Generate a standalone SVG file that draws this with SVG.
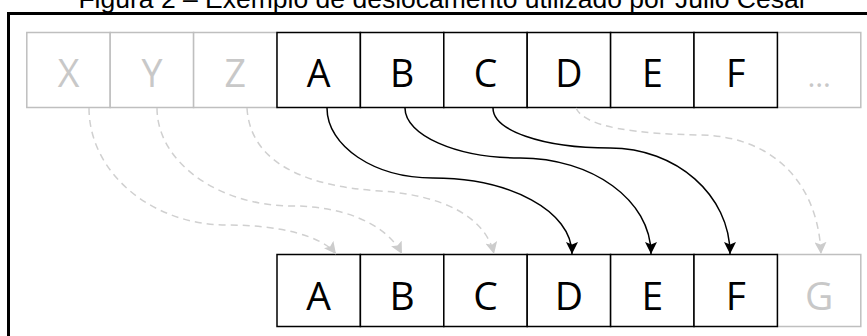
<svg xmlns="http://www.w3.org/2000/svg" width="867" height="336" viewBox="0 0 867 336">
<style>
.title{font-family:"Liberation Sans",Arial,sans-serif;font-size:26.5px;fill:#000}
.box{fill:#fff;stroke:#000;stroke-width:1.5}
.gbox{fill:#fff;stroke:#bfbfbf;stroke-width:1.5}
.t{font-family:"Open Sans","Noto Sans",sans-serif;font-size:37.5px;fill:#000;text-anchor:middle}
.tb{font-family:"Open Sans","Noto Sans",sans-serif;font-size:39px;fill:#000;text-anchor:middle}
.g{fill:#c8c8c8}
.solid{fill:none;stroke:#000;stroke-width:1.5;marker-end:url(#ah)}
.dash{fill:none;stroke:#d0d0d0;stroke-width:1.5;stroke-dasharray:7 5;marker-end:url(#ahg)}
</style>
<defs>
<marker id="ah" viewBox="0 0 12 12" refX="12" refY="6" markerWidth="12" markerHeight="12" markerUnits="userSpaceOnUse" orient="auto">
<path d="M0,0 L12,6 L0,12 L2.5,6 z" fill="#000"/>
</marker>
<marker id="ahg" viewBox="0 0 12 12" refX="12" refY="6" markerWidth="12" markerHeight="12" markerUnits="userSpaceOnUse" orient="auto">
<path d="M0,0 L12,6 L0,12 L2.5,6 z" fill="#cccccc"/>
</marker>
</defs>
<rect width="867" height="336" fill="#fff"/>
<text class="title" x="443" y="7.5" text-anchor="middle">Figura 2 – Exemplo de deslocamento utilizado por Julio Cesar</text>
<rect x="8.5" y="13.5" width="880" height="340" fill="none" stroke="#000" stroke-width="3"/>

<g id="top-X"><rect class="gbox" x="26.8" y="32.5" width="83.4" height="75"/><text class="t g" x="68.5" y="87">X</text></g>
<g id="top-Y"><rect class="gbox" x="110.2" y="32.5" width="83.4" height="75"/><text class="t g" x="151.9" y="87">Y</text></g>
<g id="top-Z"><rect class="gbox" x="193.6" y="32.5" width="83.4" height="75"/><text class="t g" x="235.3" y="87">Z</text></g>
<g id="top-dots"><rect class="gbox" x="777.4" y="32.5" width="83.4" height="75"/><text class="t g" x="819.1" y="87" style="font-size:30px">…</text></g>
<g id="top-A"><rect class="box" x="277" y="32.5" width="83.4" height="75"/><text class="t" x="318.7" y="87">A</text></g>
<g id="top-B"><rect class="box" x="360.4" y="32.5" width="83.4" height="75"/><text class="t" x="402.1" y="87">B</text></g>
<g id="top-C"><rect class="box" x="443.8" y="32.5" width="83.4" height="75"/><text class="t" x="485.5" y="87">C</text></g>
<g id="top-D"><rect class="box" x="527.2" y="32.5" width="83.4" height="75"/><text class="t" x="568.9" y="87">D</text></g>
<g id="top-E"><rect class="box" x="610.6" y="32.5" width="83.4" height="75"/><text class="t" x="652.3" y="87">E</text></g>
<g id="top-F"><rect class="box" x="694" y="32.5" width="83.4" height="75"/><text class="t" x="735.7" y="87">F</text></g>

<g id="bot-G"><rect class="gbox" x="777.4" y="254.5" width="83.4" height="72"/><text class="tb g" x="819.1" y="310">G</text></g>
<g id="bot-A"><rect class="box" x="277" y="254.5" width="83.4" height="72"/><text class="tb" x="318.7" y="310">A</text></g>
<g id="bot-B"><rect class="box" x="360.4" y="254.5" width="83.4" height="72"/><text class="tb" x="402.1" y="310">B</text></g>
<g id="bot-C"><rect class="box" x="443.8" y="254.5" width="83.4" height="72"/><text class="tb" x="485.5" y="310">C</text></g>
<g id="bot-D"><rect class="box" x="527.2" y="254.5" width="83.4" height="72"/><text class="tb" x="568.9" y="310">D</text></g>
<g id="bot-E"><rect class="box" x="610.6" y="254.5" width="83.4" height="72"/><text class="tb" x="652.3" y="310">E</text></g>
<g id="bot-F"><rect class="box" x="694" y="254.5" width="83.4" height="72"/><text class="tb" x="735.7" y="310">F</text></g>

<g id="connectors">
<path class="dash" d="M89 108 C 89 172 151 225 227 225 C 280 225 322 236 336 254"/>
<path class="dash" d="M157 108 C 157 162 218 206 293 206 C 340 206 385 222 402 254"/>
<path class="dash" d="M247 108 C 250 160 300 186 380 191 C 440 195 485 215 494 254"/>
<path class="dash" d="M576 108 C 585 128 640 134 700 135 C 770 136 818 180 821 254"/>
<path class="solid" d="M327 108 C 327 146 374 178 433 178 C 510 178 572 211 572 254"/>
<path class="solid" d="M405 108 C 405 135 456 158 520 158 C 592 158 651 200 651 254"/>
<path class="solid" d="M493 108 C 493 130 541 148 610 148 C 676 148 730 195 730 254"/>
</g>
</svg>
